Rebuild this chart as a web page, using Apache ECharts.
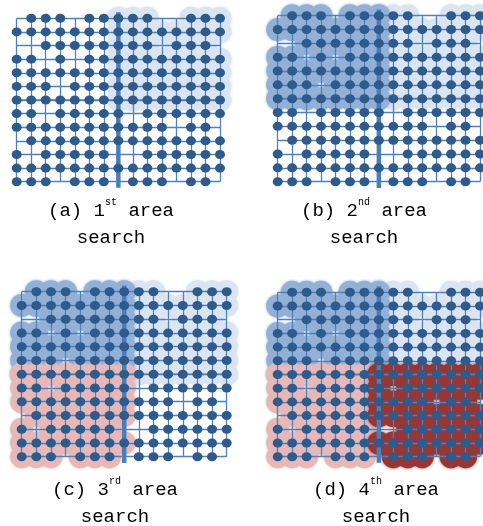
<!DOCTYPE html>
<html><head><meta charset="utf-8">
<script src="https://cdn.jsdelivr.net/npm/echarts@6/dist/echarts.min.js"></script>
<style>html,body{margin:0;padding:0;background:#fff}#c{width:483px;height:526px}</style>
</head><body><div id="c"></div>
<script>
// Network: 15 columns x 13 rows; '1' = sensor node present
const columnCount = 15;
const rowCount = 13;
const nodeRows = [
  "011101111100111",
  "111111111111111",
  "001111111101110",
  "110101111111111",
  "111111111111111",
  "111011111111111",
  "111111111111111",
  "110111110111111",
  "111111111110110",
  "011111111111111",
  "101111100111111",
  "111111111111111",
  "111011101110110"
];
const dividerColumn = 7;
const dividerRow = 6;
// Search areas (column range, row range)
const areaNames = ["upperRight", "upperLeft", "lowerLeft", "lowerRight"];
const areaColumns = [[7, 14], [0, 7], [0, 7], [7, 14]];
const areaRows = [[0, 6], [0, 6], [6, 12], [6, 12]];
const areaColors = ["#dbe5f1", "#93b0d6", "#e6b9b8", "#953735"];
// Panels: how many areas have been searched in each
const panelLetters = ["(a)", "(b)", "(c)", "(d)"];
const panelNumbers = ["1", "2", "3", "4"];
const panelOrdinals = ["st", "nd", "rd", "th"];
const panelAreasShown = [1, 2, 3, 4];

// ---- layout (pixels) ----
const panelGrids = [
  {left: 16.7, top: 18.3, width: 203.3, height: 163.4},
  {left: 277.7, top: 15.7, width: 202.3, height: 166},
  {left: 21.7, top: 291.7, width: 205, height: 165},
  {left: 277.7, top: 292.3, width: 202.3, height: 164.4}
];
const dividerRowExtent = [[-0.45, 14], [-0.5, 14], [0, 14.35], [-0.5, 14]];
const labelPos = [[111, 197.5], [364, 197.5], [115, 476.5], [376, 476.5]];
const blobRadius = 11.5;

const nodes = [];
nodeRows.forEach((row, r) => {
  for (let c = 0; c < columnCount; c++) if (row[c] === '1') nodes.push([c, r]);
});
function areaNodes(a) {
  return nodes.filter(([c, r]) => c >= areaColumns[a][0] && c <= areaColumns[a][1] && r >= areaRows[a][0] && r <= areaRows[a][1]);
}

function blobRenderer(pts, color) {
  return function (params, api) {
    if (params.dataIndex !== 0) return null;
    const R = blobRadius;
    let d = '';
    pts.forEach(p => {
      const q = api.coord(p);
      const y = q[1].toFixed(2);
      d += 'M' + (q[0] + R).toFixed(2) + ' ' + y +
           'A' + R + ' ' + R + ' 0 1 1 ' + (q[0] - R).toFixed(2) + ' ' + y +
           'A' + R + ' ' + R + ' 0 1 1 ' + (q[0] + R).toFixed(2) + ' ' + y + 'Z';
    });
    return {type: 'path', shape: {pathData: d},
      style: {fill: color, stroke: null, lineWidth: 0, shadowBlur: 3, shadowColor: color}};
  };
}

const grid = [], xAxis = [], yAxis = [], series = [], graphic = [];
const lineColor = '#4f81bd';
panelGrids.forEach((g, i) => {
  grid.push(Object.assign({containLabel: false}, g));
  const common = {
    type: 'value', gridIndex: i, interval: 1, z: 3,
    axisLine: {show: false}, axisTick: {show: false}, axisLabel: {show: false},
    splitLine: {show: true, lineStyle: {color: lineColor, width: 1.3, opacity: 1}}
  };
  xAxis.push(Object.assign({min: 0, max: columnCount - 1}, common));
  yAxis.push(Object.assign({min: 0, max: rowCount - 1, inverse: true}, common));
  for (let a = 0; a < panelAreasShown[i]; a++) {
    const pts = areaNodes(a);
    series.push({
      type: 'custom', name: areaNames[a], xAxisIndex: i, yAxisIndex: i,
      data: pts, clip: false, silent: true, z: 1,
      renderItem: blobRenderer(pts, areaColors[a])
    });
  }
  series.push({
    type: 'line', xAxisIndex: i, yAxisIndex: i, silent: true, clip: false, z: 4,
    data: [[dividerColumn, -0.45], [dividerColumn, rowCount - 1 + 0.45]],
    showSymbol: false, symbol: 'none', lineStyle: {color: '#4a7ebb', width: 4.5}
  });
  series.push({
    type: 'line', xAxisIndex: i, yAxisIndex: i, silent: true, clip: false, z: 4,
    data: [[dividerRowExtent[i][0], dividerRow], [dividerRowExtent[i][1], dividerRow]],
    showSymbol: false, symbol: 'none', lineStyle: {color: lineColor, width: 1.6}
  });
  series.push({
    type: 'scatter', name: 'nodes', xAxisIndex: i, yAxisIndex: i,
    data: nodes, symbolSize: [10, 9], clip: false, silent: true, z: 5,
    itemStyle: {color: '#2e5a8c', opacity: 1, borderWidth: 0}
  });
  graphic.push({
    type: 'text', x: labelPos[i][0], y: labelPos[i][1], z: 10,
    style: {
      text: panelLetters[i] + ' ' + panelNumbers[i] + '{sup|' + panelOrdinals[i] + '} area\nsearch',
      fontFamily: 'Liberation Mono', fontSize: 19, lineHeight: 27, fill: '#000',
      align: 'center', textAlign: 'center', verticalAlign: 'top', textVerticalAlign: 'top',
      rich: {
        sup: {fontFamily: 'Liberation Mono', fontSize: 10, lineHeight: 16, verticalAlign: 'top', fill: '#000'}
      }
    }
  });
});

const chart = echarts.init(document.getElementById('c'), null, {renderer: 'canvas'});
chart.setOption({animation: false, backgroundColor: '#fff', grid, xAxis, yAxis, series, graphic});
</script></body></html>
